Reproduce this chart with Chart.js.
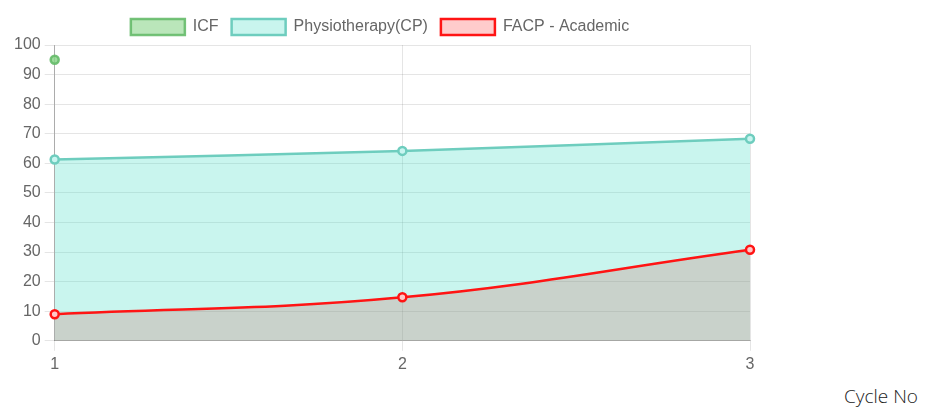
<!DOCTYPE html>
<html>
<head>
<meta charset="utf-8">
<script src="https://cdn.jsdelivr.net/npm/chart.js@4/dist/chart.umd.min.js"></script>
<style>
  html, body { margin: 0; padding: 0; background: #fff; }
  #wrap { position: relative; width: 925px; height: 407px; }
  #box { position: absolute; left: 0; top: 0; width: 765px; height: 378px; }
  #xtitle {
    position: absolute; right: 7px; top: 383px;
    font-family: "Open Sans", sans-serif; font-weight: 300;
    font-size: 19px; color: #222;
  }
</style>
</head>
<body>
<div id="wrap">
  <div id="box"><canvas id="chart"></canvas></div>
  <div id="xtitle">Cycle No</div>
</div>
<script>
const cycles = ['1', '2', '3'];
const icf = [95, null, null];
const physio = [61.3, 64.2, 68.3];
const facp = [9, 14.7, 30.8];
const yTicksMax = 100;

const ctx = document.getElementById('chart');
Chart.defaults.font.family = 'Arial, "Liberation Sans", sans-serif';
Chart.defaults.font.size = 16;
Chart.defaults.color = '#666';

new Chart(ctx, {
    type: 'line',
    data: {
        labels: cycles,
        datasets: [
            {
                label: 'ICF',
                data: icf,
                borderColor: 'rgba(102,187,106,0.9)',
                backgroundColor: 'rgba(130,210,130,0.55)',
                pointBackgroundColor: 'rgba(130,210,130,0.8)',
                borderWidth: 2.5,
                pointRadius: 4,
                fill: 'origin',
                tension: 0.4,
            },
            {
                label: 'Physiotherapy(CP)',
                data: physio,
                borderColor: 'rgb(110,205,190)',
                backgroundColor: 'rgba(75,222,200,0.3)',
                pointBackgroundColor: 'rgba(200,245,240,1)',
                borderWidth: 2.5,
                pointRadius: 4,
                fill: 'origin',
                tension: 0.4,
            },
            {
                label: 'FACP - Academic',
                data: facp,
                borderColor: 'rgb(255,20,20)',
                backgroundColor: 'rgba(255,0,0,0.2)',
                pointBackgroundColor: 'rgba(255,200,200,1)',
                borderWidth: 2.5,
                pointRadius: 4,
                fill: 'origin',
                tension: 0.4,
            },
        ],
    },
    options: {
        responsive: true,
        maintainAspectRatio: false,
        animation: false,
        layout: {
            padding: { left: 10, right: 15, top: 6, bottom: 0 },
        },
        plugins: {
            filler: { drawTime: 'beforeDatasetsDraw' },
            legend: {
                position: 'top',
                labels: {
                    boxWidth: 54,
                    boxHeight: 16,
                    padding: 13,
                },
            },
            tooltip: { enabled: false },
        },
        scales: {
            x: {
                grid: { color: 'rgba(0,0,0,0.1)', tickLength: 10 },
                border: { color: 'rgba(0,0,0,0.25)' },
                ticks: { padding: 4 },
            },
            y: {
                min: 0,
                max: yTicksMax,
                ticks: { stepSize: 10, padding: 4 },
                grid: { color: 'rgba(0,0,0,0.1)', tickLength: 10 },
                border: { color: 'rgba(0,0,0,0.25)' },
            },
        },
    },
});
</script>
</body>
</html>
